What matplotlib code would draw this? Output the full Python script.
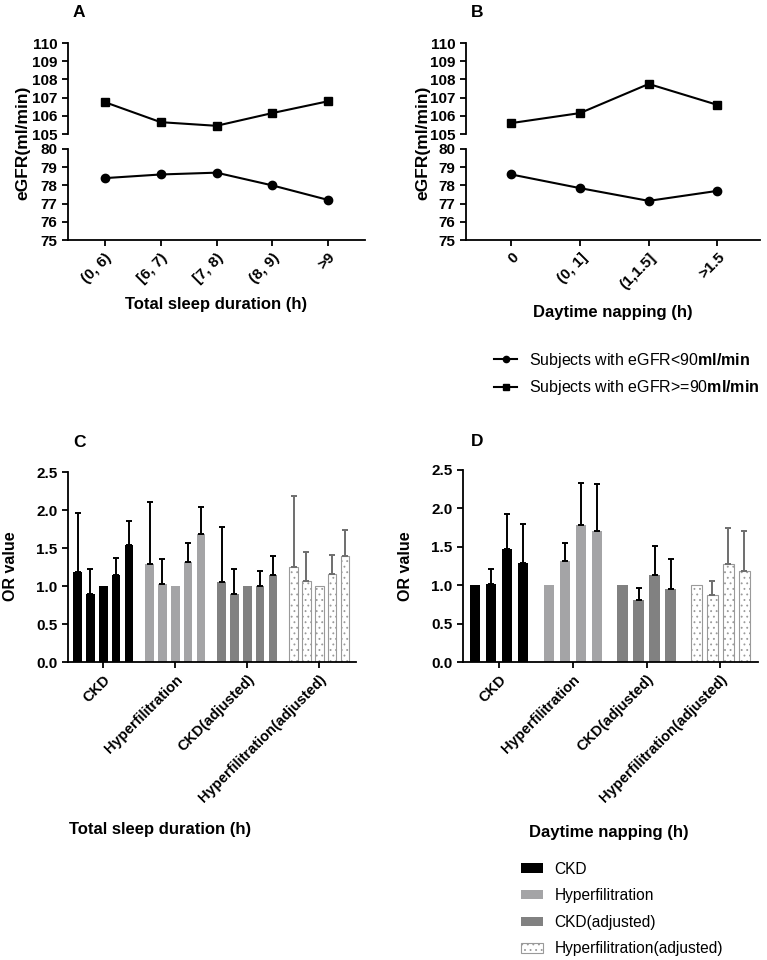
import matplotlib
matplotlib.use('Agg')
import matplotlib.pyplot as plt
from matplotlib.patches import Patch
import numpy as np

plt.rcParams['font.family'] = ['Liberation Sans', 'DejaVu Sans']
plt.rcParams['mathtext.fontset'] = 'custom'
plt.rcParams['mathtext.rm'] = 'Liberation Sans'
plt.rcParams['mathtext.bf'] = 'Liberation Sans:bold'
plt.rcParams['hatch.linewidth'] = 0.6

# panel A / B data
sleep_cats = ['(0, 6)', '[6, 7)', '[7, 8)', '(8, 9)', '>9']
sleep_low = [78.4, 78.6, 78.7, 78.0, 77.2]
sleep_high = [106.75, 105.65, 105.45, 106.15, 106.8]

nap_cats = ['0', '(0, 1]', '(1,1.5]', '>1.5']
nap_low = [78.6, 77.85, 77.15, 77.7]
nap_high = [105.6, 106.15, 107.75, 106.6]

# panel C / D data (OR and upper CI, None = reference group)
groups = ['CKD', 'Hyperfilitration', 'CKD(adjusted)', 'Hyperfilitration(adjusted)']

sleep_ckd = [1.18, 0.90, 1.0, 1.15, 1.54]
sleep_ckd_up = [1.96, 1.22, None, 1.37, 1.86]
sleep_hyp = [1.29, 1.03, 1.0, 1.32, 1.68]
sleep_hyp_up = [2.11, 1.36, None, 1.56, 2.04]
sleep_ckd_adj = [1.05, 0.90, 1.0, 1.0, 1.15]
sleep_ckd_adj_up = [1.78, 1.22, None, 1.20, 1.40]
sleep_hyp_adj = [1.25, 1.07, 1.0, 1.16, 1.39]
sleep_hyp_adj_up = [2.18, 1.45, None, 1.41, 1.74]

nap_ckd = [1.0, 1.02, 1.47, 1.29]
nap_ckd_up = [None, 1.21, 1.93, 1.80]
nap_hyp = [1.0, 1.32, 1.78, 1.71]
nap_hyp_up = [None, 1.55, 2.33, 2.32]
nap_ckd_adj = [1.0, 0.81, 1.13, 0.95]
nap_ckd_adj_up = [None, 0.96, 1.51, 1.34]
nap_hyp_adj = [1.0, 0.87, 1.27, 1.18]
nap_hyp_adj_up = [None, 1.05, 1.75, 1.70]

W, H = 767, 960
fig = plt.figure(figsize=(W / 100, H / 100), dpi=100)


def rect(l, t, r, b):
    return [l / W, 1 - b / H, (r - l) / W, (b - t) / H]


def style(ax, fs=11):
    for s in ['top', 'right']:
        ax.spines[s].set_visible(False)
    for s in ['left', 'bottom']:
        ax.spines[s].set_linewidth(1.3)
    ax.tick_params(width=1.3, length=4, direction='out')
    for lab in ax.get_yticklabels():
        lab.set_fontweight('bold')
        lab.set_fontsize(fs)


def line_panel(l, r, cats, low, high, xlabel, label_y, ylabel_x, xr):
    ax_t = fig.add_axes(rect(l, 43, r, 134))
    ax_b = fig.add_axes(rect(l, 149, r, 240), sharex=ax_t)
    x = np.arange(len(cats))
    ax_t.plot(x, high, color='black', lw=1.5, marker='s', ms=6)
    h1, = ax_b.plot(x, low, color='black', lw=1.5, marker='o', ms=6)
    ax_t.set_ylim(105, 110)
    ax_b.set_ylim(75, 80)
    ax_t.set_yticks(range(105, 111))
    ax_b.set_yticks(range(75, 81))
    ax_b.set_xlim(-0.66, xr)
    ax_t.tick_params(axis='x', bottom=False, labelbottom=False)
    ax_b.set_xticks(x)
    ax_b.set_xticklabels(cats, rotation=45, ha='right', rotation_mode='anchor',
                         fontweight='bold', fontsize=11)
    style(ax_t)
    style(ax_b)
    ax_t.spines['bottom'].set_visible(False)
    ax_b.set_xlabel(xlabel, fontweight='bold', fontsize=12)
    ax_b.xaxis.set_label_coords(0.5, label_y)
    ax_b.xaxis.label.set_va('top')
    fig.text(ylabel_x / W, 1 - 143 / H, 'eGFR(ml/min)', rotation=90,
             ha='center', va='center', fontweight='bold', fontsize=12.5)
    return h1, ax_t.lines[0]


low_h, high_h = line_panel(68, 365, sleep_cats, sleep_low, sleep_high,
                           'Total sleep duration (h)', -0.626, 23, 4.66)
line_panel(466, 760, nap_cats, nap_low, nap_high,
           'Daytime napping (h)', -0.714, 423, 3.62)

for lbl, px, py in [('A', 73, 17), ('B', 471, 17), ('C', 73, 447), ('D', 471, 446)]:
    fig.text(px / W, 1 - py / H, lbl, fontweight='bold', fontsize=12.5)

fig.legend([low_h, high_h],
           [r'Subjects with eGFR<90$\mathbf{ml/min}$',
            r'Subjects with eGFR>=90$\mathbf{ml/min}$'],
           loc='center left', bbox_to_anchor=(494 / W, 1 - 374 / H),
           frameon=False, fontsize=11.5, handlelength=1.45, handletextpad=0.75,
           labelspacing=0.55, borderaxespad=0, borderpad=0, markerscale=0.75)

bar_styles = [
    dict(color='#000000', edgecolor='#000000', err='#000000'),
    dict(color='#a4a4a6', edgecolor='#a4a4a6', err='#000000'),
    dict(color='#818181', edgecolor='#818181', err='#000000'),
    dict(color='white', edgecolor='#9a9a9a', hatch='...', err='#6e6e6e'),
]


def bar_panel(l, t, r, series, ups, width, pitch, xlabel, lab_x, lab_y, ylab_x):
    ax = fig.add_axes(rect(l, t, r, 662))
    n = len(series[0])
    for g, (vals, up) in enumerate(zip(series, ups)):
        st = bar_styles[g]
        xs = g + (np.arange(n) - (n - 1) / 2) * pitch
        ax.bar(xs, vals, width=width, color=st['color'], edgecolor=st['edgecolor'],
               hatch=st.get('hatch'), linewidth=0.8 if st.get('hatch') else 0,
               zorder=2)
        idx = [i for i in range(n) if up[i] is not None]
        ex = xs[idx]
        ev = np.array([vals[i] for i in idx])
        eu = np.array([up[i] for i in idx])
        ax.errorbar(ex, ev, yerr=[np.zeros(len(idx)), eu - ev], fmt='none',
                    ecolor=st['err'], elinewidth=1.4, capsize=2.2, capthick=1.4,
                    zorder=3)
    ax.set_xlim(-0.49, 3.51)
    ax.set_ylim(0, 2.5)
    ax.set_yticks([0, 0.5, 1.0, 1.5, 2.0, 2.5])
    ax.set_yticklabels(['%.1f' % v for v in [0, 0.5, 1.0, 1.5, 2.0, 2.5]])
    ax.set_xticks(range(4))
    ax.set_xticklabels(groups, rotation=45, ha='right', rotation_mode='anchor',
                       fontweight='bold', fontsize=10.5)
    style(ax)
    ax.set_xlabel(xlabel, fontweight='bold', fontsize=12)
    ax.xaxis.set_label_coords(lab_x, lab_y)
    ax.xaxis.label.set_va('top')
    fig.text(ylab_x / W, 1 - 566 / H, 'OR value', rotation=90,
             ha='center', va='center', fontweight='bold', fontsize=11.5)


bar_panel(68, 472, 356,
          [sleep_ckd, sleep_hyp, sleep_ckd_adj, sleep_hyp_adj],
          [sleep_ckd_up, sleep_hyp_up, sleep_ckd_adj_up, sleep_hyp_adj_up],
          0.12, 0.178, 'Total sleep duration (h)', 0.32, -0.842, 11)
bar_panel(463, 470, 758,
          [nap_ckd, nap_hyp, nap_ckd_adj, nap_hyp_adj],
          [nap_ckd_up, nap_hyp_up, nap_ckd_adj_up, nap_hyp_adj_up],
          0.142, 0.217, 'Daytime napping (h)', 0.495, -0.849, 405)

patches = [Patch(facecolor=s['color'], edgecolor=s['edgecolor'], hatch=s.get('hatch'),
                 linewidth=0.8 if s.get('hatch') else 0) for s in bar_styles]
fig.legend(patches, groups, loc='center left', bbox_to_anchor=(521 / W, 1 - 909 / H),
           frameon=False, fontsize=11.2, handlelength=1.4, handleheight=0.55,
           handletextpad=0.75, labelspacing=0.75, borderaxespad=0, borderpad=0)

fig.savefig('out.png', dpi=100)
